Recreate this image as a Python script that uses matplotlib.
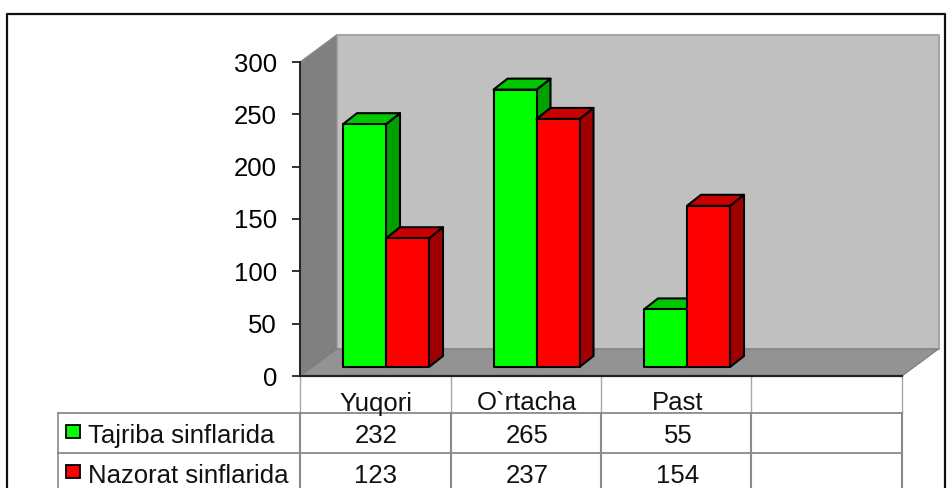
import matplotlib
matplotlib.use("Agg")
import matplotlib.pyplot as plt
from matplotlib.patches import Polygon, Rectangle

plt.rcParams['font.family'] = ['Liberation Sans', 'DejaVu Sans']

# --- data ---
categories = ["Yuqori", "O`rtacha", "Past", ""]
series_names = ["Tajriba sinflarida", "Nazorat sinflarida"]
tajriba = [232, 265, 55]
nazorat = [123, 237, 154]
y_ticks = [0, 50, 100, 150, 200, 250, 300]

W, H = 947, 488
LEFT, RIGHT, BOTTOM, TOP = 300, 902, 376, 62

fig = plt.figure(figsize=(W / 100, H / 100), dpi=100, facecolor='white')

# full-figure overlay in pixels, for the frame and the table grid
bg = fig.add_axes([0, 0, 1, 1])
bg.set_xlim(0, W)
bg.set_ylim(H, 0)
bg.set_axis_off()

ax = fig.add_axes([LEFT / W, 1 - BOTTOM / H, (RIGHT - LEFT) / W, (BOTTOM - TOP) / H])
ax.set_xlim(0, 4)
ax.set_ylim(0, 300)
ax.patch.set_visible(False)
for s in ax.spines.values():
    s.set_visible(False)

# px -> data units
PX = 4 / (RIGHT - LEFT)
PY = 300 / (BOTTOM - TOP)
wall_dx, wall_dy = 36.5 * PX, 27 * PY
bar_dx, bar_dy = 14 * PX, 11 * PY
bar_w = 43 * PX
bar_start = 43 * PX
bar_lift = 9 * PY


def poly(pts, fc, ec='none', lw=0, z=1):
    ax.add_patch(Polygon(pts, closed=True, facecolor=fc, edgecolor=ec, linewidth=lw,
                         zorder=z, clip_on=False, joinstyle='round'))


# walls
poly([(wall_dx, wall_dy), (4 + wall_dx, wall_dy), (4 + wall_dx, 300 + wall_dy), (wall_dx, 300 + wall_dy)],
     '#C0C0C0', '#A6A6A6', 1.5)
poly([(0, 0), (wall_dx, wall_dy), (wall_dx, 300 + wall_dy), (0, 300)], '#808080', '#8C8C8C', 0.8)
poly([(0, 0), (wall_dx, wall_dy), (4 + wall_dx, wall_dy), (4, 0)], '#939393', '#7A7A7A', 0.8)


def bar3d(x, v, front, top, side, z):
    b = bar_lift
    t = bar_lift + v
    poly([(x + bar_w, b), (x + bar_w + bar_dx, b + bar_dy), (x + bar_w + bar_dx, t + bar_dy), (x + bar_w, t)],
         side, 'black', 1.5, z)
    poly([(x, t), (x + bar_dx, t + bar_dy), (x + bar_w + bar_dx, t + bar_dy), (x + bar_w, t)],
         top, 'black', 1.5, z)
    poly([(x, b), (x + bar_w, b), (x + bar_w, t), (x, t)], front, 'black', 1.5, z)


for i, (a, b) in enumerate(zip(tajriba, nazorat)):
    x0 = i + bar_start
    bar3d(x0, a, '#00FF00', '#00C800', '#00A000', 3 + i * 2)
    bar3d(x0 + bar_w, b, '#FF0000', '#C80000', '#A00000', 4 + i * 2)

# axis lines
ax.plot([0, 4], [0, 0], color='#222222', lw=1.6, zorder=20, clip_on=False)
ax.plot([0, 0], [0, 300], color='#222222', lw=1.4, zorder=20, clip_on=False)
ax.set_xticks([])
ax.set_yticks(y_ticks)
ax.tick_params(axis='y', length=6, width=1.2, color='#111111', pad=10.5, labelsize=18.5)

# frame
bg.plot([7, 7, 944.5, 944.5], [H, 13.5, 13.5, H], color='#111111', lw=1.6, clip_on=False)

# table grid
grid = '#8A8A8A'
for xv in [LEFT, 451, 601, 751, RIGHT]:
    bg.plot([xv, xv], [377, 413], color='#A8A8A8', lw=1.0, zorder=1)
    bg.plot([xv, xv], [413, H], color=grid, lw=1.5, zorder=1)
bg.plot([58, 58], [413, H], color=grid, lw=1.2, zorder=1)
bg.plot([58, RIGHT], [413, 413], color=grid, lw=1.3, zorder=1)
bg.plot([58, RIGHT], [452.5, 452.5], color=grid, lw=1.3, zorder=1)

# table text
FS = 18.5
col_x = [376, 527, 678]
for cx, name in zip(col_x, categories):
    bg.text(cx, 403.5, name, ha='center', va='center', fontsize=FS, color='#111111')

rows_y = [436, 476]
swatches = ['#00FF00', '#FF0000']
for ry, name, col, vals in zip(rows_y, series_names, swatches, [tajriba, nazorat]):
    bg.add_patch(Rectangle((65.5, ry - 11), 14, 13, facecolor=col, edgecolor='black', linewidth=1.3))
    bg.text(88, ry, name, ha='left', va='center', fontsize=FS, color='#111111')
    for cx, v in zip(col_x, vals):
        bg.text(cx, ry, str(v), ha='center', va='center', fontsize=FS, color='#111111')

fig.savefig('out.png', dpi=100)
